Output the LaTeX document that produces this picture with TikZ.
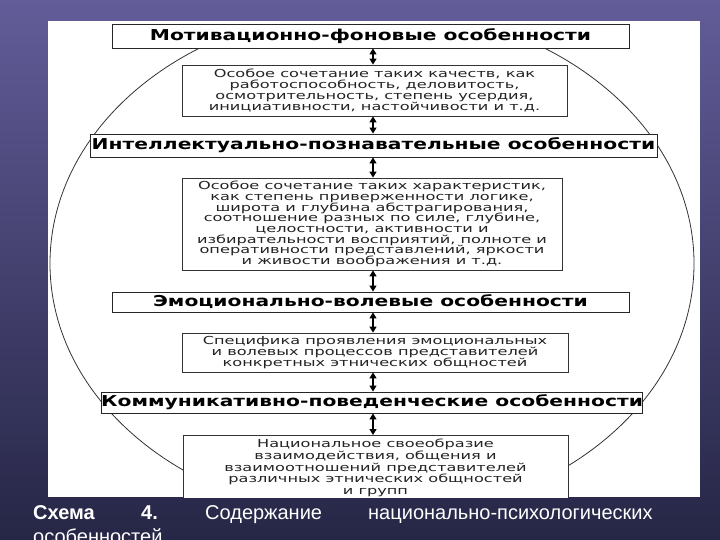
\documentclass[tikz,border=0pt]{standalone}
\usepackage{fontspec}
\usetikzlibrary{arrows.meta}
\newfontfamily\hdrfont[FakeStretch=1.35]{DejaVu Sans}
\newfontfamily\bodyfont[FakeStretch=1.47]{DejaVu Sans}
\newfontfamily\capfont{Liberation Sans}
\newcommand\mytightlines{\lineskiplimit=-20pt\relax\lineskip=0pt\relax}
\definecolor{bgtop}{RGB}{98,92,152}
\definecolor{bgbot}{RGB}{38,38,70}
\definecolor{ink}{RGB}{35,35,35}
\tikzset{
  hdr/.style={draw=black!85, fill=white, line width=0.9pt, inner sep=0pt,
    font=\hdrfont\bfseries\fontsize{15}{15}\selectfont, text=black},
  txt/.style={draw=black!80, fill=white, line width=0.8pt, inner sep=0pt, align=center,
    font=\bodyfont\fontsize{11}{10.7}\selectfont\mytightlines, text=ink},
  txtwide/.style={txt, font=\bodyfont\fontsize{11}{11.8}\selectfont\mytightlines},
  arr/.style={{Triangle[length=6pt,width=7pt]}-{Triangle[length=6pt,width=7pt]}, line width=1.2pt, black},
  captext/.style={text=white, inner sep=0pt, font=\capfont\fontsize{20}{20}\selectfont}
}
\begin{document}
\begin{tikzpicture}[x=1pt,y=-1pt]
\useasboundingbox (0,0) rectangle (720,540);
\shade[top color=bgtop, bottom color=bgbot] (0,0) rectangle (720,540);
\fill[white] (48,21) rectangle (700,497);
\begin{scope}
  \clip (48,21) rectangle (700,497);
  \begin{scope}
    \clip (48,48) rectangle (700,497);
    \draw[line width=0.8pt, black!80] (372,263.5) ellipse [x radius=322, y radius=255];
  \end{scope}
  \coordinate (ax) at (373,0);
  \node[hdr, minimum width=517, minimum height=24] (H1) at (370.5,36) {Мотивационно-фоновые особенности};
  \node[txt, minimum width=385, minimum height=51] (T1) at (374.5,90.5) {Особое сочетание таких качеств, как\\работоспособность, деловитость,\\осмотрительность, степень усердия,\\инициативности, настойчивости и т.д.};
  \node[hdr, minimum width=567, minimum height=23] (H2) at (373.5,145.5) {Интеллектуально-познавательные особенности};
  \node[txt, minimum width=380, minimum height=92] (T2) at (372,224) {Особое сочетание таких характеристик,\\как степень приверженности логике,\\широта и глубина абстрагирования,\\соотношение разных по силе, глубине,\\целостности, активности и\\избирательности восприятий, полноте и\\оперативности представлений, яркости\\и живости воображения и т.д.};
  \node[hdr, minimum width=517, minimum height=20] (H3) at (370.5,302) {Эмоционально-волевые особенности};
  \node[txt, minimum width=386, minimum height=39] (T3) at (375,352.5) {Специфика проявления эмоциональных\\и волевых процессов представителей\\конкретных этнических общностей};
  \node[hdr, minimum width=540, minimum height=21] (H4) at (372,402.5) {Коммуникативно-поведенческие особенности};
  \node[txtwide, minimum width=385, minimum height=65, anchor=north] (T4) at (375.5,435) {Национальное своеобразие\\взаимодействия, общения и\\взаимоотношений представителей\\различных этнических общностей\\и групп};
  \draw[arr] (H1.south -| ax) -- (T1.north -| ax);
  \draw[arr] (T1.south -| ax) -- (H2.north -| ax);
  \draw[arr] (H2.south -| ax) -- (T2.north -| ax);
  \draw[arr] (T2.south -| ax) -- (H3.north -| ax);
  \draw[arr] (H3.south -| ax) -- (T3.north -| ax);
  \draw[arr] (T3.south -| ax) -- (H4.north -| ax);
  \draw[arr] (H4.south -| ax) -- (T4.north -| ax);
\end{scope}
\node[captext, anchor=base west] (c1) at (33,519) {\bfseries Схема};
\node[captext, anchor=base west] (c2) at (141,519) {\bfseries 4.};
\node[captext, anchor=base west] (c3) at (205,519) {Содержание};
\node[captext, anchor=base west] (c4) at (368,519) {национально-психологических};
\node[captext, anchor=base west] (c5) at (33,543) {особенностей};
\end{tikzpicture}
\end{document}
